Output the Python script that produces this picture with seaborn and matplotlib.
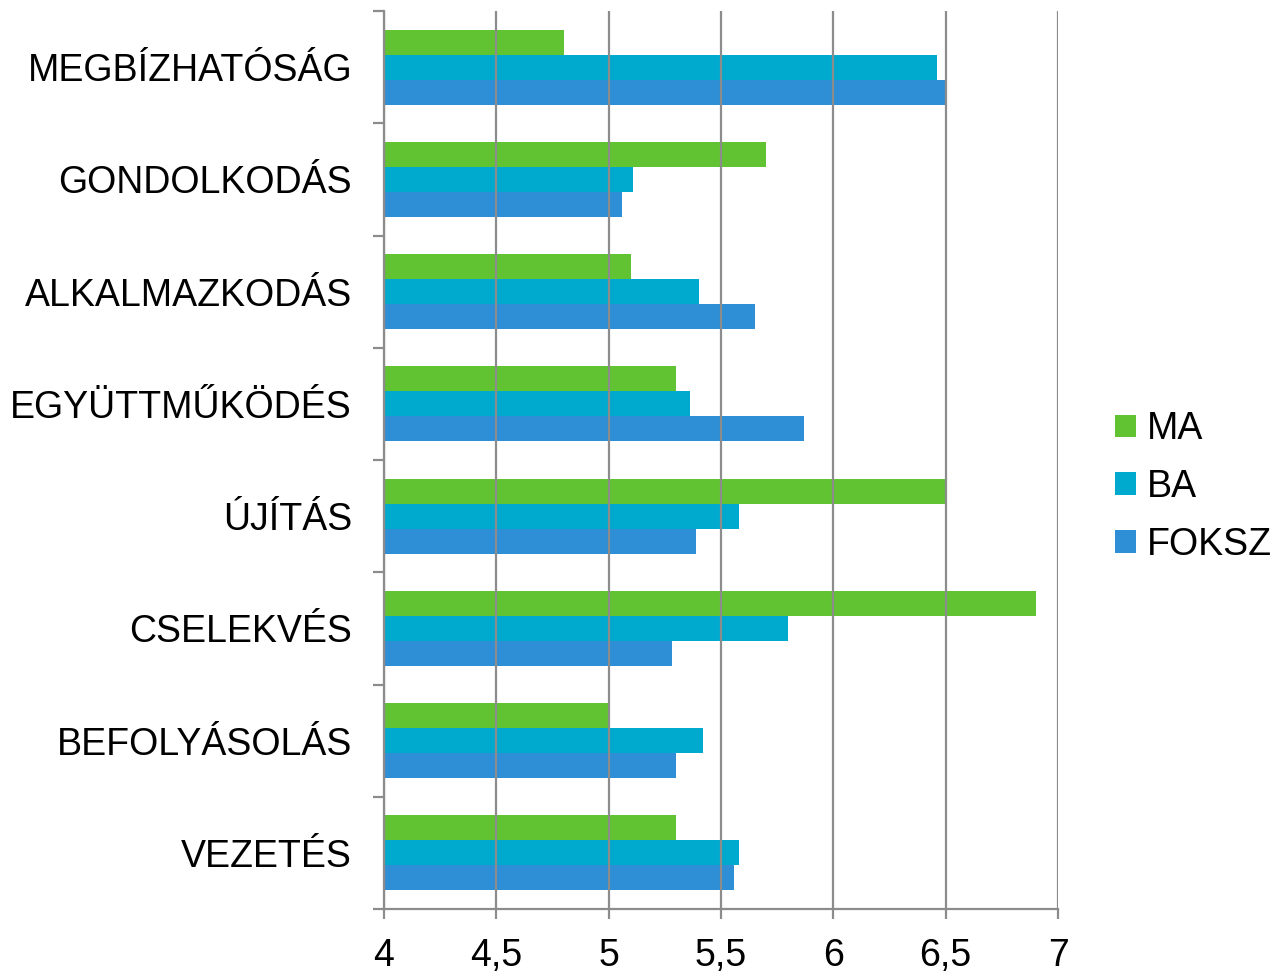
import pandas as pd
import matplotlib.pyplot as plt
import seaborn as sns
from matplotlib.patches import Patch
from matplotlib.ticker import FixedLocator, FuncFormatter

# Category labels, top to bottom
categories = ['MEGBÍZHATÓSÁG', 'GONDOLKODÁS', 'ALKALMAZKODÁS', 'EGYÜTTMŰKÖDÉS',
              'ÚJÍTÁS', 'CSELEKVÉS', 'BEFOLYÁSOLÁS', 'VEZETÉS']
series = ['MA', 'BA', 'FOKSZ']

ma = [4.8, 5.7, 5.1, 5.3, 6.5, 6.9, 5.0, 5.3]
ba = [6.46, 5.11, 5.4, 5.36, 5.58, 5.8, 5.42, 5.58]
foksz = [6.5, 5.06, 5.65, 5.87, 5.39, 5.28, 5.3, 5.56]

colors = {'MA': '#62C332', 'BA': '#00AACF', 'FOKSZ': '#2E8ED6'}

# Build long-form table
rows = []
for name, vals in zip(series, [ma, ba, foksz]):
    for cat, v in zip(categories, vals):
        rows.append({'kategoria': cat, 'csoport': name, 'ertek': v})
df = pd.DataFrame(rows)

sns.set_style('white')
plt.rcParams['font.family'] = ['Liberation Sans', 'DejaVu Sans']
plt.rcParams['text.color'] = 'black'
plt.rcParams['xtick.labelcolor'] = 'black'
plt.rcParams['ytick.labelcolor'] = 'black'

fig = plt.figure(figsize=(12.71, 9.72), dpi=100)
ax = fig.add_axes([384 / 1271, 1 - 909 / 972, (1058 - 384) / 1271, (909 - 11) / 972])

sns.barplot(data=df, y='kategoria', x='ertek', hue='csoport', order=categories,
            hue_order=series, palette=colors, orient='h', width=0.67,
            saturation=1, ax=ax, legend=False, zorder=1, linewidth=0)

ax.set_xlim(4, 7)
ax.set_ylim(len(categories) - 0.5, -0.5)
ax.set_xlabel('')
ax.set_ylabel('')

ax.set_xticks([4, 4.5, 5, 5.5, 6, 6.5, 7])
ax.xaxis.set_major_formatter(FuncFormatter(lambda v, p: ('%g' % v).replace('.', ',')))
ax.grid(axis='x', color='#8c8c8c', linewidth=1.6, zorder=3)
ax.set_axisbelow(False)

# category labels at centres, tick marks at boundaries
ax.set_yticks(range(len(categories)))
ax.set_yticklabels(categories)
ax.yaxis.set_minor_locator(FixedLocator([i - 0.5 for i in range(len(categories) + 1)]))
ax.tick_params(axis='y', which='major', length=0, pad=23, labelsize=27)
ax.tick_params(axis='y', which='minor', length=8, width=1.6, color='#8c8c8c', left=True)
ax.tick_params(axis='x', which='major', length=7, width=1.6, color='#8c8c8c',
               pad=14, labelsize=27, bottom=True)

for side in ['top', 'right']:
    ax.spines[side].set_visible(False)
for side in ['left', 'bottom']:
    ax.spines[side].set_color('#8c8c8c')
    ax.spines[side].set_linewidth(1.6)

handles = [Patch(facecolor=colors[s], edgecolor='none', label=s) for s in series]
fig.legend(handles=handles, loc='center left', bbox_to_anchor=(1100 / 1271, 1 - 487 / 972),
           frameon=False, fontsize=27, handlelength=0.55, handleheight=0.55,
           handletextpad=0.3, labelspacing=0.58, borderaxespad=0)

fig.savefig('out.png', dpi=100)
